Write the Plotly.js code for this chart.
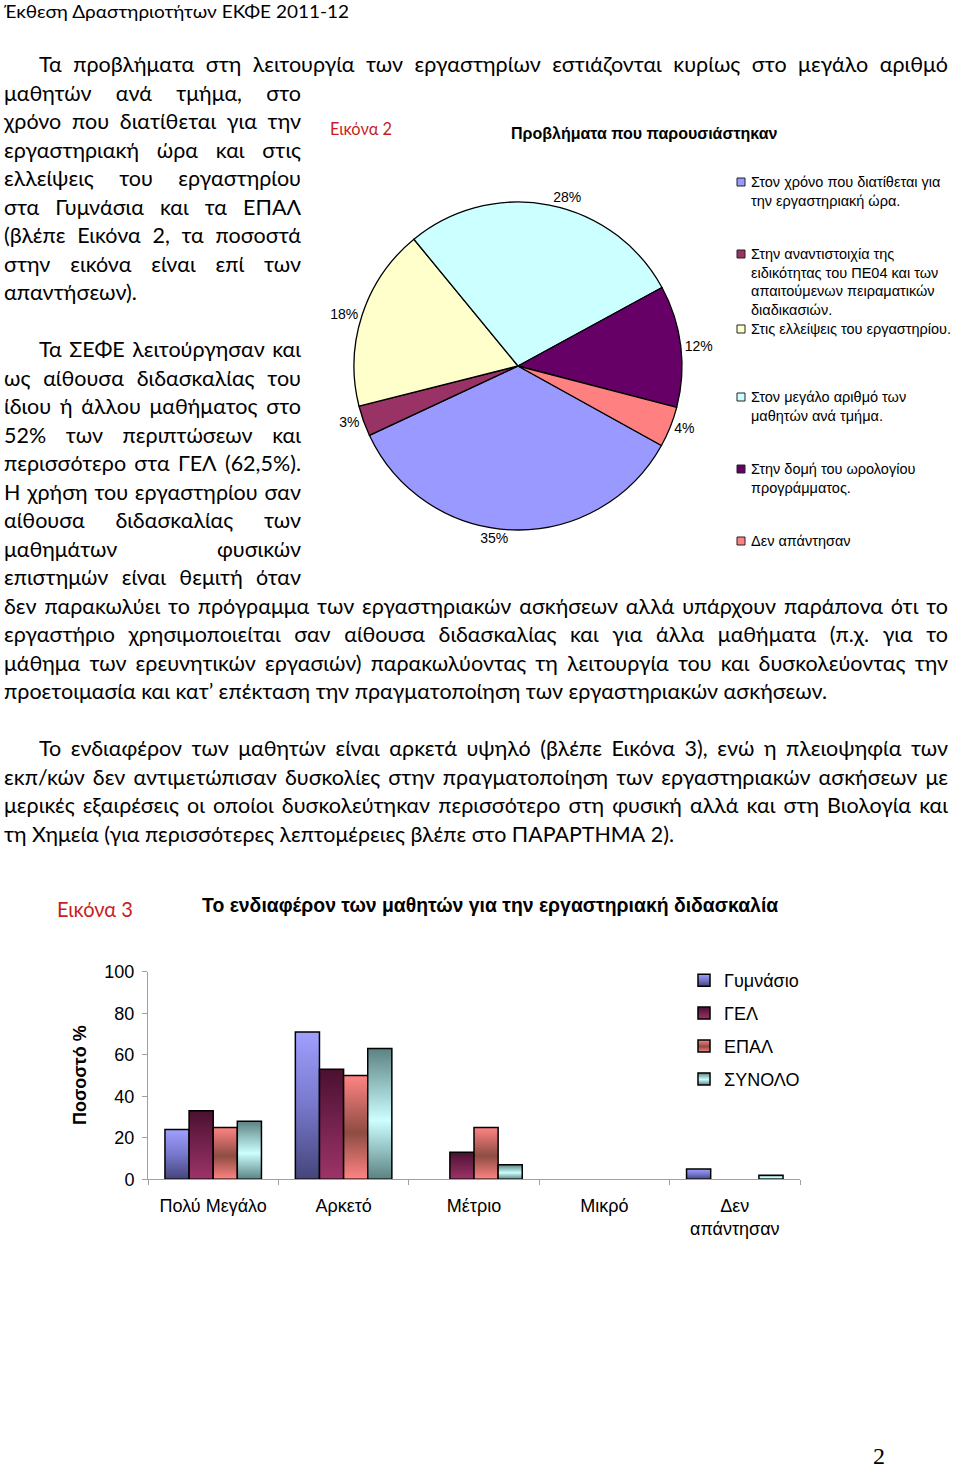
<!DOCTYPE html>
<html><head><meta charset="utf-8">
<script src="https://cdn.plot.ly/plotly-3.0.1.min.js"></script>
<style>
html,body{margin:0;padding:0;background:#fff;}
#page{position:relative;width:960px;height:1468px;overflow:hidden;background:#fff;}
#chart{position:absolute;left:0;top:0;width:960px;height:1468px;}
#txt{position:absolute;left:0;top:0;pointer-events:none;}
</style></head><body>
<div id="page"><div id="chart"></div><svg id="txt" width="960" height="1468" xmlns="http://www.w3.org/2000/svg"></svg></div>
<script>
// ---------- DATA ----------
const pieLabels = [
  'Στον χρόνο που διατίθεται για την εργαστηριακή ώρα.',
  'Στην αναντιστοιχία της ειδικότητας του ΠΕ04 και των απαιτούμενων πειραματικών διαδικασιών.',
  'Στις ελλείψεις του εργαστηρίου.',
  'Στον μεγάλο αριθμό των μαθητών ανά τμήμα.',
  'Στην δομή του ωρολογίου προγράμματος.',
  'Δεν απάντησαν'
];
const pieLegendLines = [
  ['Στον χρόνο που διατίθεται για', 'την εργαστηριακή ώρα.'],
  ['Στην αναντιστοιχία της', 'ειδικότητας του ΠΕ04 και των', 'απαιτούμενων πειραματικών', 'διαδικασιών.'],
  ['Στις ελλείψεις του εργαστηρίου.'],
  ['Στον μεγάλο αριθμό των', 'μαθητών ανά τμήμα.'],
  ['Στην δομή του ωρολογίου', 'προγράμματος.'],
  ['Δεν απάντησαν']
];
const pieValues = [35, 3, 18, 28, 12, 4];
const pieColors = ['#9999ff', '#993366', '#ffffcc', '#ccffff', '#660066', '#ff8080'];

const barCategories = ['Πολύ Μεγάλο', 'Αρκετό', 'Μέτριο', 'Μικρό', 'Δεν<br>απάντησαν'];
const seriesNames = ['Γυμνάσιο', 'ΓΕΛ', 'ΕΠΑΛ', 'ΣΥΝΟΛΟ'];
const gymnasio = [24, 71, 0, 0, 5];
const gel      = [33, 53, 13, 0, 0];
const epal     = [25, 50, 25, 0, 0];
const synolo   = [28, 63, 7, 0, 2];
const yTicks   = [0, 20, 40, 60, 80, 100];

// ---------- STYLE ----------
const W = 960, H = 1468;
const X = v => v / W, Y = v => 1 - v / H;
const CF = '"Liberation Sans", Arial, sans-serif';
const barColors = ['#7c7cd8', '#762650', '#c46a5e', '#9ad2d2'];
const gradStops = [
  [[0, '#a0a0ff'], [0.5, '#7777cc'], [1, '#45457a']],
  [[0, '#4a1030'], [0.5, '#75224e'], [1, '#9c3468']],
  [[0, '#ff8484'], [0.55, '#8e4c42'], [1, '#ff8484']],
  [[0, '#5c8282'], [0.55, '#ccffff'], [1, '#5c8282']]
];

const pieTrace = {
  type: 'pie', values: pieValues, labels: pieLabels, sort: false,
  direction: 'clockwise', rotation: 119,
  marker: {colors: pieColors, line: {color: '#000', width: 1.3}},
  textinfo: 'percent', textposition: 'outside',
  outsidetextfont: {size: 14, color: '#000', family: CF},
  domain: {x: [X(518 - 164), X(518 + 164)], y: [Y(366 + 164), Y(366 - 164)]},
  showlegend: false, hoverinfo: 'label+percent'
};

const barSeries = [gymnasio, gel, epal, synolo];
const barTraces = barSeries.map((vals, i) => ({
  type: 'bar', name: seriesNames[i], x: barCategories, y: vals,
  legendgroup: 'g' + i, xaxis: 'x', yaxis: 'y',
  marker: {color: barColors[i], line: {color: '#000', width: vals.map(v => v > 0 ? 1.5 : 0)}}
}));

const annotations = [
  {text: '<b>Προβλήματα που παρουσιάστηκαν</b>', x: X(644), y: Y(133), font: {size: 16}},
  {text: '<b>Το ενδιαφέρον των μαθητών για την εργαστηριακή διδασκαλία</b>', x: X(490), y: Y(905), font: {size: 19.4}},
  {text: '<b>Ποσοστό %</b>', x: X(80), y: Y(1075), textangle: -90, font: {size: 18}}
];
const shapes = [];
const legStart = [182, 254, 329, 397, 469, 541];
pieLegendLines.forEach((lines, i) => {
  lines.forEach((ln, j) => {
    annotations.push({text: ln, x: X(750), y: Y(legStart[i] + j * 18.6), xanchor: 'left', font: {size: 14.5}, borderpad: 0});
  });
  shapes.push({type: 'rect', xref: 'paper', yref: 'paper', x0: X(737), x1: X(745), y0: Y(legStart[i] + 4), y1: Y(legStart[i] - 4),
    fillcolor: pieColors[i], line: {color: '#222', width: 1}});
});
annotations.forEach(a => { a.xref = 'paper'; a.yref = 'paper'; a.showarrow = false; if (!a.xanchor) a.xanchor = 'center'; a.yanchor = 'middle'; });

const layout = {
  width: W, height: H, autosize: false, margin: {l: 0, r: 0, t: 0, b: 0, pad: 0},
  paper_bgcolor: 'rgba(0,0,0,0)', plot_bgcolor: 'rgba(0,0,0,0)',
  font: {family: CF, color: '#000'},
  barmode: 'group', bargap: 0.26, bargroupgap: 0,
  xaxis: {domain: [X(148), X(800)], anchor: 'y', showline: true, linecolor: '#a0a0a0', linewidth: 1,
    ticks: 'outside', tickson: 'boundaries', ticklen: 5, tickcolor: '#a0a0a0', tickfont: {size: 18},
    ticklabelstandoff: 10, showgrid: false, zeroline: false, fixedrange: true},
  yaxis: {domain: [Y(1179.3), Y(971.7)], anchor: 'x', range: [0, 100], tickvals: yTicks,
    showline: true, linecolor: '#a0a0a0', linewidth: 1, ticks: 'outside', ticklen: 5, tickcolor: '#a0a0a0',
    tickfont: {size: 18}, ticklabelstandoff: 4, showgrid: false, zeroline: false, fixedrange: true},
  legend: {x: X(684), xanchor: 'left', y: Y(962), yanchor: 'top', font: {size: 18},
    tracegroupgap: 6.5, bgcolor: 'rgba(0,0,0,0)', borderwidth: 0},
  annotations: annotations, shapes: shapes
};

Plotly.newPlot('chart', [pieTrace].concat(barTraces), layout, {staticPlot: true, displayModeBar: false}).then(gd => {
  const svg = gd.querySelector('.main-svg');
  const NS = 'http://www.w3.org/2000/svg';
  let defs = svg.querySelector('defs');
  if (!defs) { defs = document.createElementNS(NS, 'defs'); svg.insertBefore(defs, svg.firstChild); }
  gradStops.forEach((stops, i) => {
    const lg = document.createElementNS(NS, 'linearGradient');
    lg.setAttribute('id', 'bgrad' + i);
    lg.setAttribute('x1', '0'); lg.setAttribute('y1', '0'); lg.setAttribute('x2', '0'); lg.setAttribute('y2', '1');
    stops.forEach(s => {
      const st = document.createElementNS(NS, 'stop');
      st.setAttribute('offset', s[0]); st.setAttribute('stop-color', s[1]);
      lg.appendChild(st);
    });
    defs.appendChild(lg);
  });
  gd.querySelectorAll('.barlayer .trace').forEach((tr, i) => {
    tr.querySelectorAll('path').forEach(p => { p.style.fill = 'url(#bgrad' + i + ')'; });
  });
  gd.querySelectorAll('.legend .traces').forEach(tr => {
    const t = tr.querySelector('.legendtext');
    const idx = seriesNames.indexOf(t ? t.textContent : '');
    if (idx >= 0) tr.querySelectorAll('.legendpoints path').forEach(p => { p.style.fill = 'url(#bgrad' + idx + ')'; p.style.strokeWidth = '1.5px'; p.style.stroke = '#000'; });
  });
});

// ---------- PAGE TEXT ----------
const BF = 'Lato, "Noto Sans", sans-serif';
const B0 = 72, LP = 28.5, FS = 21.5;
const textLines = [
  {t: 'Τα προβλήματα στη λειτουργία των εργαστηρίων εστιάζονται κυρίως στο μεγάλο αριθμό', s: 0, x0: 39, x1: 948, m: 'j'},
  {t: 'μαθητών ανά τμήμα, στο', s: 1, x0: 4, x1: 301, m: 'j'},
  {t: 'χρόνο που διατίθεται για την', s: 2, x0: 4, x1: 301, m: 'j'},
  {t: 'εργαστηριακή ώρα και στις', s: 3, x0: 4, x1: 301, m: 'j'},
  {t: 'ελλείψεις του εργαστηρίου', s: 4, x0: 4, x1: 301, m: 'j'},
  {t: 'στα Γυμνάσια και τα ΕΠΑΛ', s: 5, x0: 4, x1: 301, m: 'j'},
  {t: '(βλέπε Εικόνα 2, τα ποσοστά', s: 6, x0: 4, x1: 301, m: 'j'},
  {t: 'στην εικόνα είναι επί των', s: 7, x0: 4, x1: 301, m: 'j'},
  {t: 'απαντήσεων).', s: 8, x0: 4, x1: 137, m: 'f'},
  {t: 'Τα ΣΕΦΕ λειτούργησαν και', s: 10, x0: 39, x1: 301, m: 'j'},
  {t: 'ως αίθουσα διδασκαλίας του', s: 11, x0: 4, x1: 301, m: 'j'},
  {t: 'ίδιου ή άλλου μαθήματος στο', s: 12, x0: 4, x1: 301, m: 'j'},
  {t: '52% των περιπτώσεων και', s: 13, x0: 4, x1: 301, m: 'j'},
  {t: 'περισσότερο στα ΓΕΛ (62,5%).', s: 14, x0: 4, x1: 301, m: 'j'},
  {t: 'Η χρήση του εργαστηρίου σαν', s: 15, x0: 4, x1: 301, m: 'j'},
  {t: 'αίθουσα διδασκαλίας των', s: 16, x0: 4, x1: 301, m: 'j'},
  {t: 'μαθημάτων φυσικών', s: 17, x0: 4, x1: 301, m: 'j'},
  {t: 'επιστημών είναι θεμιτή όταν', s: 18, x0: 4, x1: 301, m: 'j'},
  {t: 'δεν παρακωλύει το πρόγραμμα των εργαστηριακών ασκήσεων αλλά υπάρχουν παράπονα ότι το', s: 19, x0: 4, x1: 948, m: 'j'},
  {t: 'εργαστήριο χρησιμοποιείται σαν αίθουσα διδασκαλίας και για άλλα μαθήματα (π.χ. για το', s: 20, x0: 4, x1: 948, m: 'j'},
  {t: 'μάθημα των ερευνητικών εργασιών) παρακωλύοντας τη λειτουργία του και δυσκολεύοντας την', s: 21, x0: 4, x1: 948, m: 'j'},
  {t: 'προετοιμασία και κατ’ επέκταση την πραγματοποίηση των εργαστηριακών ασκήσεων.', s: 22, x0: 4, x1: 827, m: 'f'},
  {t: 'Το ενδιαφέρον των μαθητών είναι αρκετά υψηλό (βλέπε Εικόνα 3), ενώ η πλειοψηφία των', s: 24, x0: 39, x1: 948, m: 'j'},
  {t: 'εκπ/κών δεν αντιμετώπισαν δυσκολίες στην πραγματοποίηση των εργαστηριακών ασκήσεων με', s: 25, x0: 4, x1: 948, m: 'j'},
  {t: 'μερικές εξαιρέσεις οι οποίοι δυσκολεύτηκαν περισσότερο στη φυσική αλλά και στη Βιολογία και', s: 26, x0: 4, x1: 948, m: 'j'},
  {t: 'τη Χημεία (για περισσότερες λεπτομέρειες βλέπε στο ΠΑΡΑΡΤΗΜΑ 2).', s: 27, x0: 4, x1: 674, m: 'f'}
];
const extraText = [
  {t: 'Έκθεση Δραστηριοτήτων ΕΚΦΕ 2011-12', x0: 4, x1: 349, y: 18, fs: 18, m: 'f'},
  {t: 'Εικόνα 2', x0: 330, x1: 392, y: 135, fs: 17, m: 'f', c: '#c81e1e'},
  {t: 'Εικόνα 3', x0: 57, x1: 133, y: 917, fs: 21, m: 'f', c: '#c81e1e'},
  {t: '2', x0: 873, y: 1464, fs: 24, m: 'n', f: '"Liberation Serif", "DejaVu Serif", serif'}
];
const tsvg = document.getElementById('txt');
function addLine(o) {
  const NS = 'http://www.w3.org/2000/svg';
  const el = document.createElementNS(NS, 'text');
  el.setAttribute('x', o.x0); el.setAttribute('y', o.y);
  el.setAttribute('font-family', o.f || BF); el.setAttribute('font-size', o.fs);
  el.setAttribute('fill', o.c || '#000');
  el.setAttribute('xml:space', 'preserve');
  el.textContent = o.t;
  tsvg.appendChild(el);
  if (o.m === 'n') return;
  const len = el.getComputedTextLength();
  const Wt = o.x1 - o.x0;
  const ns = (o.t.match(/ /g) || []).length;
  if (o.m === 'j' && len < Wt && ns > 0) {
    el.style.wordSpacing = ((Wt - len) / ns).toFixed(2) + 'px';
  } else {
    el.setAttribute('textLength', Wt);
    el.setAttribute('lengthAdjust', 'spacingAndGlyphs');
  }
}
textLines.forEach(l => addLine(Object.assign({y: B0 + LP * l.s, fs: FS}, l)));
extraText.forEach(addLine);
</script>
</body></html>
